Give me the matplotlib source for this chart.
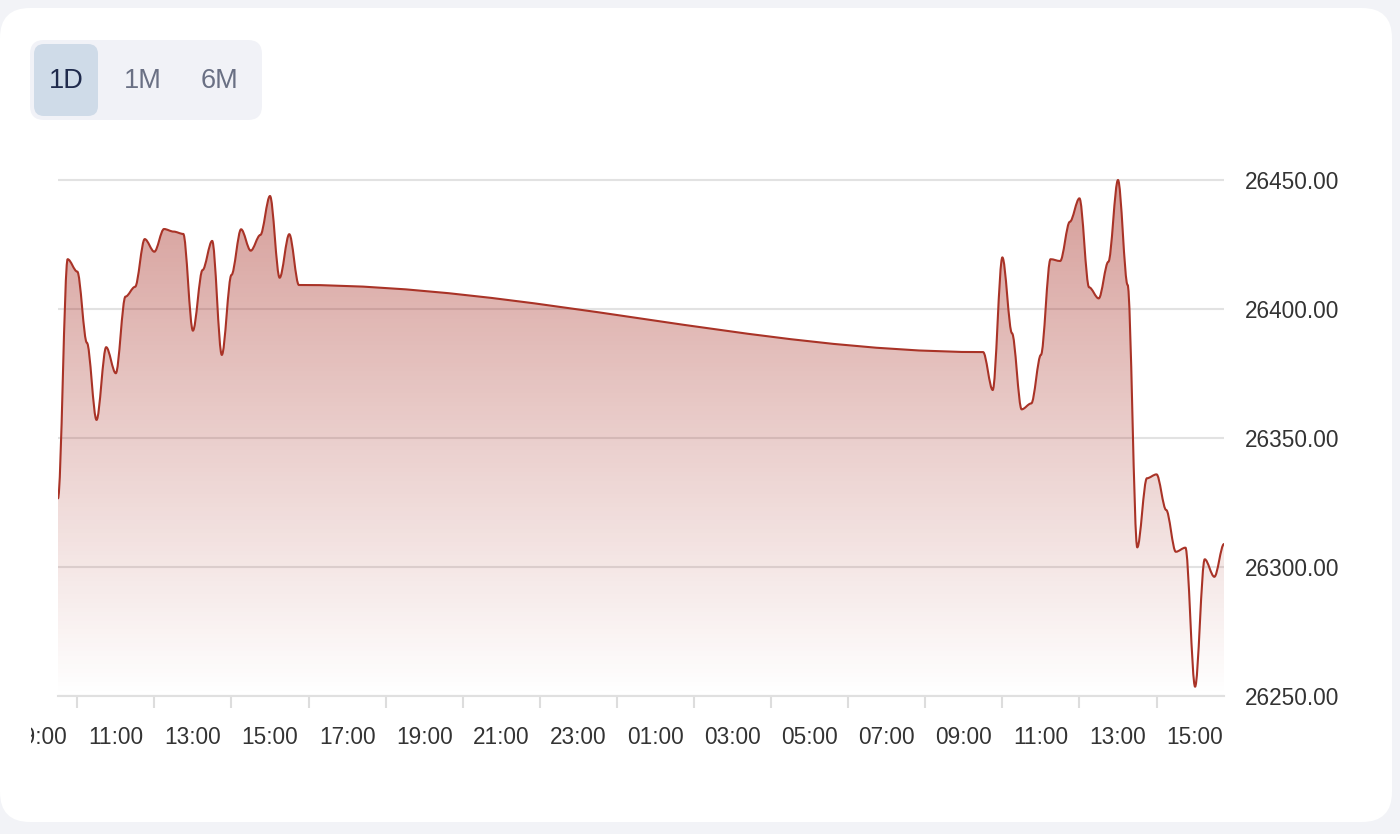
import numpy as np
import pandas as pd
import matplotlib
matplotlib.use('Agg')
import matplotlib.pyplot as plt
import matplotlib.dates as mdates
from matplotlib.path import Path
from matplotlib.patches import PathPatch, FancyBboxPatch
from matplotlib.transforms import Bbox, TransformedBbox

plt.rcParams['font.family'] = ['Liberation Sans', 'DejaVu Sans']

# 15 minute closes, two sessions
day1_times = pd.date_range('2025-11-27 09:30', '2025-11-27 15:45', freq='15min')
day1_close = [26326.6, 26419.3, 26414.5, 26386.9, 26357.0, 26385.2, 26375.1, 26404.8,
              26408.6, 26427.1, 26422.2, 26431.0, 26430.0, 26429.1, 26391.6, 26415.1,
              26426.4, 26382.2, 26413.2, 26430.9, 26422.6, 26428.7, 26443.8, 26412.1,
              26429.0, 26409.3]
day2_times = pd.date_range('2025-11-28 09:30', '2025-11-28 15:45', freq='15min')
day2_close = [26383.3, 26368.6, 26420.0, 26390.6, 26361.1, 26363.4, 26382.2, 26419.3,
              26418.6, 26433.8, 26442.9, 26408.4, 26404.1, 26418.3, 26450.0, 26409.3,
              26307.6, 26334.4, 26335.9, 26322.1, 26305.9, 26307.5, 26253.6, 26303.0,
              26296.2, 26308.9]
y_ticks = [26250, 26300, 26350, 26400, 26450]
first_label = pd.Timestamp('2025-11-27 09:00')
ranges = ['1D', '1M', '6M']
selected = '1D'

line_col = '#a93327'
fill_rgb = (0.65, 0.17, 0.13)
txt_col = '#333333'
fs = 16.3

fig = plt.figure(figsize=(14, 8.34), dpi=100, facecolor='#f2f3f7')

# background card + range buttons (pixel coords)
bg = fig.add_axes([0, 0, 1, 1])
bg.set_xlim(0, 1400)
bg.set_ylim(834, 0)
bg.axis('off')
bg.add_patch(FancyBboxPatch((0, 8), 1392, 814, boxstyle='round,pad=0,rounding_size=30',
                            fc='white', ec='none'))
bg.add_patch(FancyBboxPatch((30, 40), 232, 80, boxstyle='round,pad=0,rounding_size=14',
                            fc='#f1f2f7', ec='none'))
for i, r in enumerate(ranges):
    cx = 66 + i * 77
    if r == selected:
        bg.add_patch(FancyBboxPatch((34, 44), 64, 72, boxstyle='round,pad=0,rounding_size=10',
                                    fc='#cfdbe8', ec='none'))
        c = '#1f2a4c'
    else:
        c = '#6a7084'
    bg.text(cx, 81, r, ha='center', va='center', fontsize=19.5, color=c)

# main chart
ax = fig.add_axes([58 / 1400, 138 / 834, 1166 / 1400, 526 / 834])
ax.patch.set_alpha(0)
ax.xaxis_date()

x = mdates.date2num(list(day1_times) + list(day2_times))
y = np.array(day1_close + day2_close)
ybot = y_ticks[0]
ytop = y_ticks[0] + 526 * (y_ticks[1] - y_ticks[0]) / 129

# smooth curve: cubic segments, flat tangent at each point
verts = [(x[0], y[0])]
codes = [Path.MOVETO]
for i in range(len(x) - 1):
    dx = x[i + 1] - x[i]
    verts += [(x[i] + dx / 3, y[i]), (x[i + 1] - dx / 3, y[i + 1]), (x[i + 1], y[i + 1])]
    codes += [Path.CURVE4] * 3
line_path = Path(verts, codes)
fill_path = Path(verts + [(x[-1], ybot), (x[0], ybot), (x[0], y[0])],
                 codes + [Path.LINETO, Path.LINETO, Path.CLOSEPOLY])

clip_patch = PathPatch(fill_path, fc='none', ec='none')
ax.add_patch(clip_patch)
grad = np.zeros((256, 1, 4))
grad[:, 0, :3] = fill_rgb
grad[:, 0, 3] = np.linspace(0.47, 0.0, 256)
im = ax.imshow(grad, extent=[x[0], x[-1], ybot, ytop], origin='upper', aspect='auto',
               interpolation='bilinear', zorder=2)
im.set_clip_path(clip_patch)
ax.add_patch(PathPatch(line_path, fill=False, ec=line_col, lw=1.5, zorder=3,
                       joinstyle='round', capstyle='round'))

ax.set_xlim(x[0], x[-1])
ax.set_ylim(ybot, ytop)

# y axis on the right
ax.set_yticks(y_ticks)
ax.yaxis.tick_right()
ax.yaxis.set_major_formatter(plt.FuncFormatter(lambda v, p: '%.2f' % v))
ax.tick_params(axis='y', length=0, pad=15, labelsize=fs, labelcolor=txt_col)
ax.grid(axis='y', color='#e2e2e2', lw=1.5, zorder=0)
ax.set_axisbelow(True)

# x axis: labels at odd hours, tick marks at even hours
ax.xaxis.set_major_locator(mdates.HourLocator(byhour=range(1, 24, 2)))
ax.xaxis.set_major_formatter(mdates.DateFormatter('%H:%M'))
ax.xaxis.set_minor_locator(mdates.HourLocator(byhour=range(0, 24, 2)))
ax.tick_params(axis='x', which='major', length=0, pad=21.5, labelsize=fs, labelcolor=txt_col)
ax.tick_params(axis='x', which='minor', length=8.5, width=1.5, color='#dddddd')

for s in ['top', 'left', 'right']:
    ax.spines[s].set_visible(False)
ax.spines['bottom'].set_color('#e0e0e0')
ax.spines['bottom'].set_linewidth(1.5)

# first hour label sits outside the plot, cut by the card edge
lbl = ax.annotate(first_label.strftime('%H:%M'), xy=(mdates.date2num(first_label), 0),
                  xycoords=('data', 'axes fraction'), xytext=(0, -21.5), textcoords='offset points',
                  ha='center', va='top', fontsize=fs, color=txt_col, annotation_clip=False)
lbl.set_clip_box(TransformedBbox(Bbox.from_extents(31 / 1400, 0, 1, 1), fig.transFigure))
lbl.set_clip_on(True)

fig.savefig('out.png', dpi=100, facecolor=fig.get_facecolor())
